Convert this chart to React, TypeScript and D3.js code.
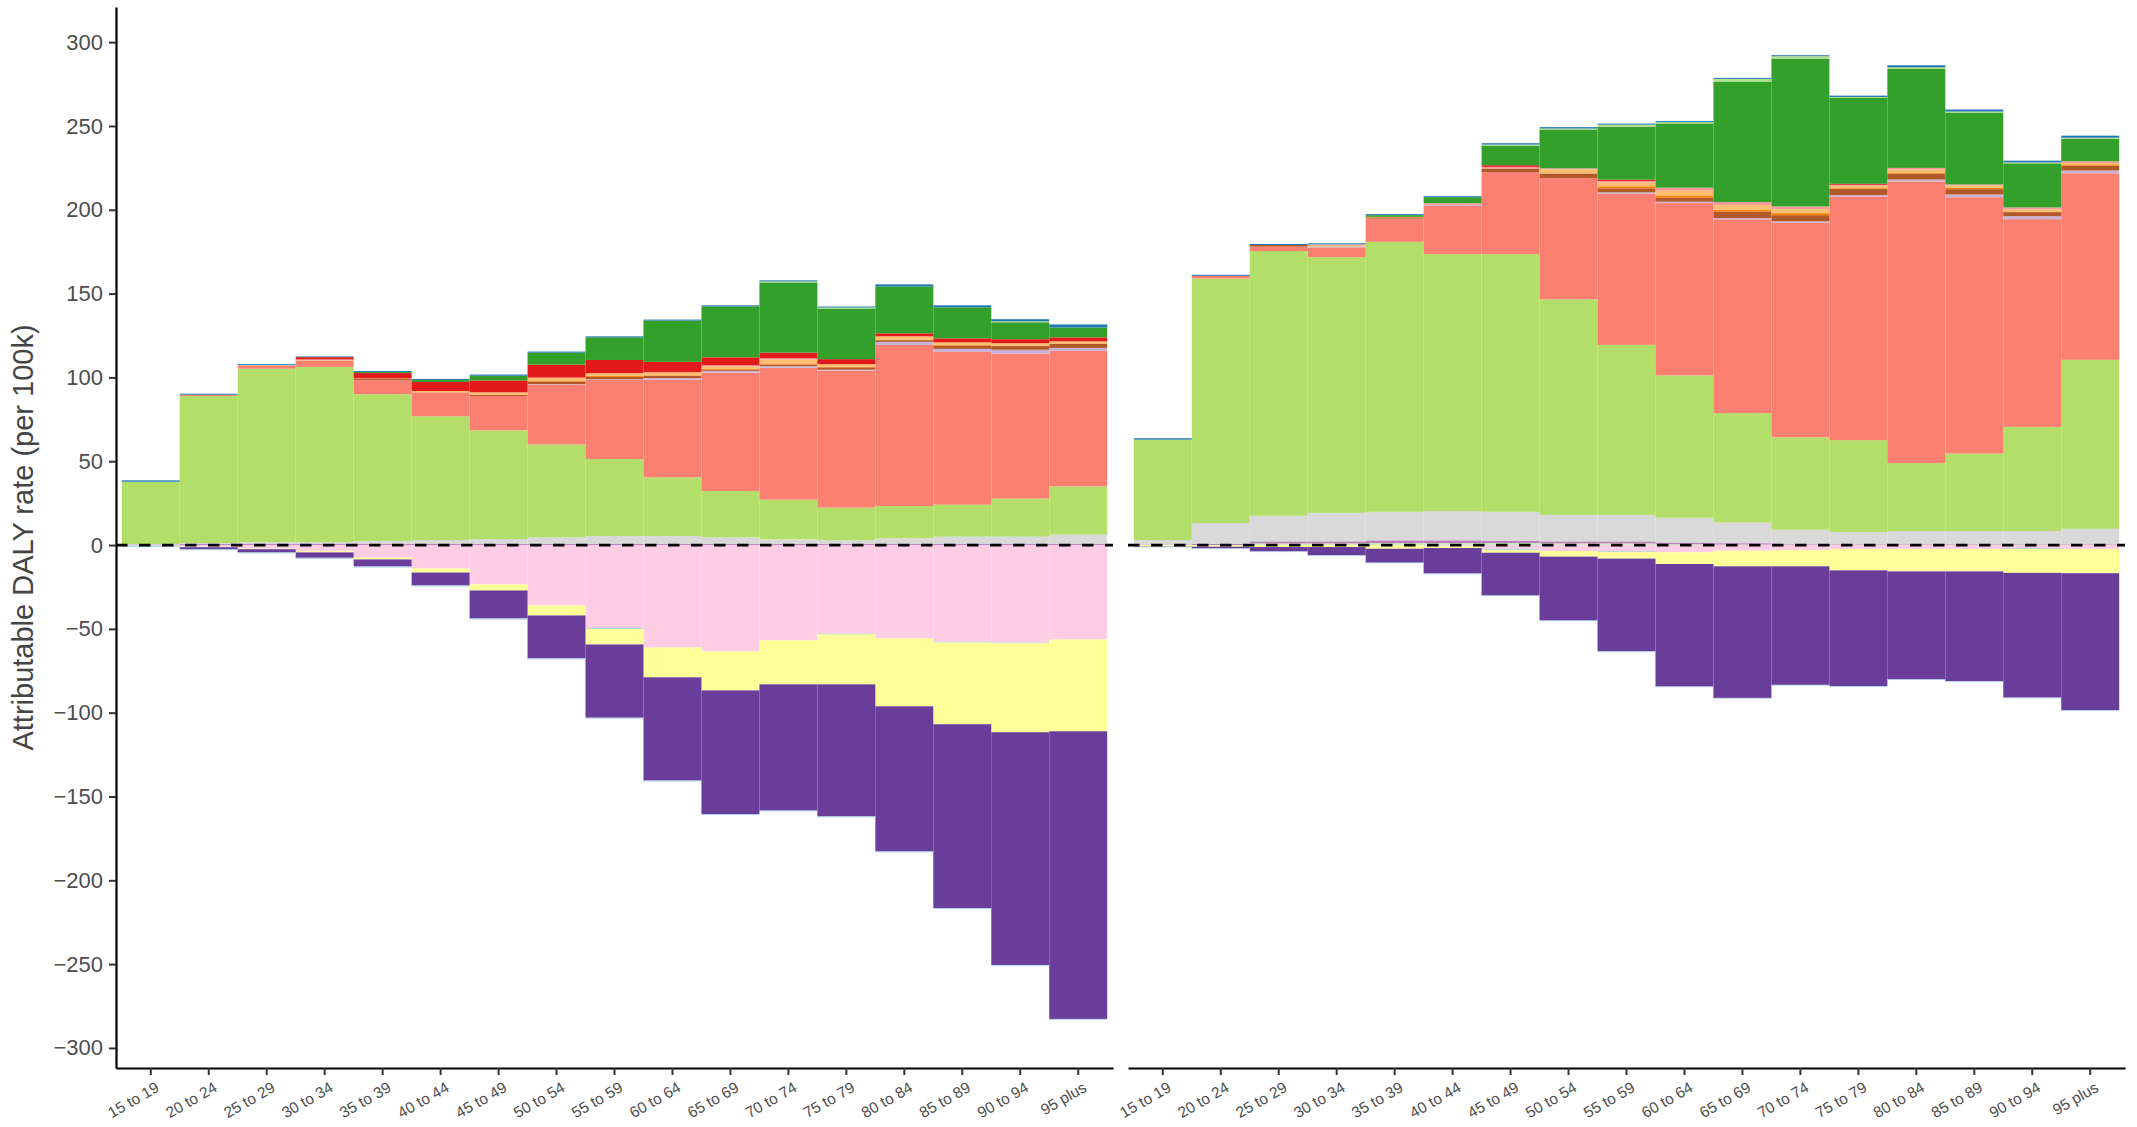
import React, { useEffect, useRef } from 'react'
import * as d3 from 'd3'

const ages = ['15 to 19', '20 to 24', '25 to 29', '30 to 34', '35 to 39', '40 to 44', '45 to 49', '50 to 54', '55 to 59', '60 to 64', '65 to 69', '70 to 74', '75 to 79', '80 to 84', '85 to 89', '90 to 94', '95 plus']
const yTicks = [-300, -250, -200, -150, -100, -50, 0, 50, 100, 150, 200, 250, 300]

// left panel, above zero (bottom to top)
const leftMint = [0, 0, 0, 0, 0, 0, 0, 0, 0, 0, 0, 0, 0, 0, 0, 0, 0]
const leftMagenta = [0.3, 0.6, 0.6, 0.6, 0.6, 0.6, 0.6, 0.6, 0.6, 0.6, 0.6, 0.6, 0.6, 0.6, 0.6, 0.6, 0.6]
const leftGray = [0.3, 0.6, 1.2, 1.2, 1.8, 2.4, 3.0, 4.0, 4.8, 4.8, 4.0, 2.8, 2.3, 3.4, 4.4, 4.4, 5.6]
const leftGreen = [37.2, 87.7, 103.4, 104.5, 87.6, 73.8, 64.9, 55.4, 45.9, 35.0, 27.6, 23.7, 19.4, 19.3, 19.1, 22.7, 28.8]
const leftSalmon = [0, 0.6, 1.8, 3.8, 8.3, 14.1, 20.4, 35.7, 47.3, 58.2, 70.7, 78.6, 81.8, 96.1, 91.1, 86.4, 80.8]
const leftLavender = [0, 0, 0, 0, 0, 0, 0, 0.3, 0.3, 1.0, 1.0, 1.0, 0.5, 1.8, 1.8, 2.4, 1.8]
const leftBrown = [0, 0, 0, 0, 0.8, 0.2, 0.8, 1.6, 1.4, 1.4, 0.8, 1.0, 1.4, 1.0, 2.0, 2.2, 2.4]
const leftOrange = [0, 0, 0, 0, 0, 0, 0, 0.3, 0.6, 0.3, 0.3, 0.3, 0.3, 0.3, 0.3, 0.3, 0.3]
const leftLightOrange = [0, 0.2, 0.3, 0.6, 0.3, 0.8, 1.4, 2.0, 1.6, 1.8, 1.6, 2.8, 1.6, 2.0, 1.6, 1.4, 1.2]
const leftPink = [0, 0, 0, 0, 0, 0, 0, 0, 0, 0, 0.6, 0.6, 0, 0, 0, 0, 0]
const leftRed = [0, 0, 0, 1.4, 3.2, 5.4, 7.1, 7.7, 7.9, 6.2, 4.8, 3.4, 3.0, 1.8, 2.4, 2.4, 2.4]
const leftDarkGreen = [0, 0, 0, 0, 0.6, 1.2, 2.8, 7.2, 13.5, 24.6, 30.4, 41.9, 30.2, 28.0, 18.5, 10.1, 5.9]
const leftLightGreen = [0, 0, 0, 0, 0, 0, 0, 0, 0, 0, 0, 0.6, 0.6, 0, 0, 0.6, 0]
const leftBlue = [0.8, 0.6, 0.6, 0.4, 0.6, 0.6, 0.7, 0.6, 0.6, 0.6, 0.6, 0.6, 0.6, 1.2, 1.2, 1.2, 1.8]
// left panel, below zero (top to bottom)
const leftRose = [-0.3, -1.0, -2.2, -3.5, -7.5, -14, -23.5, -36, -49.7, -61.1, -63.4, -56.9, -52.9, -55.7, -57.7, -58.3, -56.3]
const leftTeal = [-0.5, 0, 0, 0, 0, 0, 0, 0, -0.4, 0, 0, 0, -0.4, 0, -0.4, -0.3, 0]
const leftYellow = [0, -0.3, -0.3, -0.9, -1.1, -2.4, -3.6, -6, -9.2, -17.8, -23.3, -26.2, -29.8, -40.5, -48.8, -53.1, -54.8]
const leftPurple = [0, -1.2, -1.9, -3.2, -4.2, -7.7, -16.7, -25.6, -43.7, -61.6, -73.8, -75.3, -78.8, -86.6, -109.7, -138.8, -171.6]
const leftLightBlue = [-0.4, -0.6, -0.6, -0.6, -0.6, -0.6, -0.6, -0.6, -0.5, -0.5, -0.5, -0.5, -0.5, -0.5, -0.5, -0.5, -0.5]

// right panel, above zero
const rightMint = [0, 0, 1.0, 1.0, 1.2, 1.2, 1.2, 1.0, 1.0, 0.5, 0.3, 0.3, 0.3, 0.3, 0.3, 0.3, 0.3]
const rightMagenta = [0.3, 0.8, 1.2, 1.2, 1.6, 1.6, 1.4, 1.2, 1.2, 1.0, 0.8, 0.4, 0.3, 0.3, 0.3, 0.3, 0.3]
const rightGray = [2.7, 12.3, 15.2, 17.0, 17.0, 17.4, 17.2, 15.8, 15.8, 14.8, 12.3, 8.4, 7.2, 7.8, 7.8, 7.8, 9.1]
const rightGreen = [59.9, 145.9, 158.0, 152.5, 161.1, 153.4, 153.8, 128.6, 101.4, 84.9, 65.3, 55.2, 54.8, 40.5, 46.2, 62.1, 100.8]
const rightSalmon = [0, 1.6, 2.6, 5.9, 13.9, 28.7, 48.8, 72.3, 90.2, 102.8, 115.6, 128.0, 145.4, 168.0, 152.9, 123.9, 111.3]
const rightLavender = [0, 0, 0, 0.6, 0, 0.6, 0, 0, 0.8, 0.8, 0.8, 0.8, 0.8, 1.2, 1.6, 1.8, 1.6]
const rightBrown = [0, 0, 1.0, 0, 0.6, 0, 2.2, 2.8, 2.4, 2.4, 3.9, 3.7, 3.7, 3.5, 3.2, 2.4, 2.9]
const rightOrange = [0, 0, 0, 0, 0.4, 0, 0, 0, 1.2, 1.4, 1.0, 1.2, 0.4, 0.4, 0.8, 0.4, 0.8]
const rightLightOrange = [0, 0, 0, 0.8, 0, 0, 0, 2.4, 2.4, 2.8, 2.8, 2.4, 1.4, 2.0, 1.4, 1.2, 0.8]
const rightPink = [0, 0, 0, 0.4, 0, 1.0, 1.0, 0.6, 0.8, 1.8, 1.8, 1.6, 0.6, 1.0, 0.6, 1.2, 1.0]
const rightRed = [0, 0, 0, 0, 0, 0, 1.0, 0, 0.8, 0, 0, 0, 0.6, 0, 0, 0, 0]
const rightDarkGreen = [0, 0, 0, 0, 1.0, 3.6, 11.7, 23.2, 31.6, 38.3, 71.9, 88.2, 51.2, 59.0, 42.9, 26.3, 13.5]
const rightLightGreen = [0, 0, 0, 0, 0, 0, 0.6, 0.6, 1.2, 0.8, 1.6, 1.4, 0.6, 1.0, 0.6, 0.6, 0.6]
const rightBlue = [0.8, 0.6, 0.6, 0.6, 0.6, 0.6, 0.8, 0.8, 0.6, 0.6, 0.6, 0.6, 0.8, 1.2, 1.2, 1.0, 1.2]
// right panel, below zero
const rightRose = [0, 0, 0, 0, 0, -0.8, -2.6, -3.6, -3.8, -4.3, -3.4, -3.0, -2.4, -2.4, -2.4, -2.0, -2.4]
const rightTeal = [0, 0, 0, 0, 0, 0, -0.4, 0, -0.4, 0, 0, 0, 0, 0, 0, -0.4, 0]
const rightYellow = [-0.8, -1.0, -1.2, -1.2, -2.2, -1.0, -1.6, -3.3, -3.9, -7.0, -9.3, -9.7, -12.7, -13.3, -13.3, -14.2, -14.4]
const rightPurple = [-0.2, -1.0, -2.6, -4.9, -8.3, -15.2, -25.5, -38.1, -55.3, -73.1, -78.5, -70.7, -69.1, -64.4, -65.5, -74.4, -81.7]
const rightLightBlue = [-0.4, -0.4, -0.4, -0.4, -0.4, -0.4, -0.4, -0.4, -0.4, -0.4, -0.4, -0.4, -0.4, -0.4, -0.4, -0.4, -0.4]

const colors = {
  mint: '#CCEBC5', magenta: '#BC80BD', gray: '#D9D9D9', green: '#B3DE69', salmon: '#FB8072',
  lavender: '#CAB2D6', brown: '#B15928', orange: '#FF7F00', lightOrange: '#FDBF6F', pink: '#FB9A99',
  red: '#E31A1C', darkGreen: '#33A02C', lightGreen: '#B2DF8A', blue: '#1F78B4',
  rose: '#FCCDE5', teal: '#8DD3C7', yellow: '#FFFF99', purple: '#6A3D9A', lightBlue: '#A6CEE3',
}
const keys = Object.keys(colors)

const leftLayers = {
  mint: leftMint, magenta: leftMagenta, gray: leftGray, green: leftGreen, salmon: leftSalmon,
  lavender: leftLavender, brown: leftBrown, orange: leftOrange, lightOrange: leftLightOrange, pink: leftPink,
  red: leftRed, darkGreen: leftDarkGreen, lightGreen: leftLightGreen, blue: leftBlue,
  rose: leftRose, teal: leftTeal, yellow: leftYellow, purple: leftPurple, lightBlue: leftLightBlue,
}
const rightLayers = {
  mint: rightMint, magenta: rightMagenta, gray: rightGray, green: rightGreen, salmon: rightSalmon,
  lavender: rightLavender, brown: rightBrown, orange: rightOrange, lightOrange: rightLightOrange, pink: rightPink,
  red: rightRed, darkGreen: rightDarkGreen, lightGreen: rightLightGreen, blue: rightBlue,
  rose: rightRose, teal: rightTeal, yellow: rightYellow, purple: rightPurple, lightBlue: rightLightBlue,
}

const W = 2137
const H = 1127
const plotTop = 7
const plotBottom = 1068
const font = '"Liberation Sans", Arial, sans-serif'

const App = () => {
  const svgRef = useRef(null)

  useEffect(() => {
    const svg = d3.select(svgRef.current)
    svg.selectAll('*').remove()

    const toRows = layers => ages.map((age, i) => {
      const row = { age }
      keys.forEach(k => { row[k] = layers[k][i] })
      return row
    })
    const stack = d3.stack().keys(keys).offset(d3.stackOffsetDiverging)
    const panels = [
      { x0: 116, x1: 1113, series: stack(toRows(leftLayers)) },
      { x0: 1128, x1: 2125, series: stack(toRows(rightLayers)) },
    ]

    const all = panels.flatMap(p => p.series.flatMap(s => s.flatMap(d => [d[0], d[1]])))
    const lo = d3.min(all)
    const hi = d3.max(all)
    const pad = (hi - lo) * 0.05
    const y = d3.scaleLinear().domain([lo - pad, hi + pad]).range([plotBottom, plotTop])

    panels.forEach(p => {
      const x = d3.scaleBand().domain(ages).range([p.x0, p.x1]).paddingInner(0).paddingOuter(0.1)
      const g = svg.append('g')

      g.selectAll('g.layer')
        .data(p.series)
        .join('g')
        .attr('class', 'layer')
        .attr('fill', s => colors[s.key])
        .selectAll('rect')
        .data(s => s.filter(d => d[1] !== d[0]))
        .join('rect')
        .attr('x', d => x(d.data.age))
        .attr('width', x.bandwidth())
        .attr('y', d => y(Math.max(d[0], d[1])))
        .attr('height', d => Math.abs(y(d[0]) - y(d[1])))

      // zero reference line
      g.append('line')
        .attr('x1', p.x0).attr('x2', p.x1)
        .attr('y1', y(0)).attr('y2', y(0))
        .attr('stroke', '#000')
        .attr('stroke-width', 2.7)
        .attr('stroke-dasharray', '11.5 11.5')

      const xAxis = g.append('g')
        .attr('transform', `translate(0,${plotBottom})`)
        .call(d3.axisBottom(x).tickSize(7).tickSizeOuter(0))
      xAxis.select('.domain').attr('stroke', '#000').attr('stroke-width', 2.2)
      xAxis.selectAll('.tick line').attr('stroke', '#333').attr('stroke-width', 2)
      xAxis.selectAll('.tick text')
        .attr('x', 0).attr('y', 0).attr('dy', '0.71em')
        .attr('transform', 'translate(4,13) rotate(-30)')
        .attr('text-anchor', 'end')
        .attr('fill', '#4D4D4D')
        .attr('font-size', 15.5)
        .attr('font-family', font)
    })

    const yAxis = svg.append('g')
      .attr('transform', 'translate(116,0)')
      .call(d3.axisLeft(y).tickValues(yTicks).tickSize(7).tickPadding(6).tickSizeOuter(0)
        .tickFormat(d => (d < 0 ? '\u2212' + Math.abs(d) : String(d))))
    yAxis.select('.domain').attr('stroke', '#000').attr('stroke-width', 2.2)
    yAxis.selectAll('.tick line').attr('stroke', '#333').attr('stroke-width', 2)
    yAxis.selectAll('.tick text')
      .attr('fill', '#4D4D4D')
      .attr('font-size', 22)
      .attr('font-family', font)

    svg.append('text')
      .attr('transform', `translate(23,${(plotTop + plotBottom) / 2}) rotate(-90)`)
      .attr('text-anchor', 'middle')
      .attr('dy', '0.35em')
      .attr('font-size', 29)
      .attr('font-family', font)
      .attr('fill', '#444')
      .text('Attributable DALY rate (per 100k)')
  }, [])

  return (
    <svg
      ref={svgRef}
      width={W}
      height={H}
      style={{ position: 'absolute', left: 0, top: 0, background: '#fff' }}
    />
  )
}

export default App
